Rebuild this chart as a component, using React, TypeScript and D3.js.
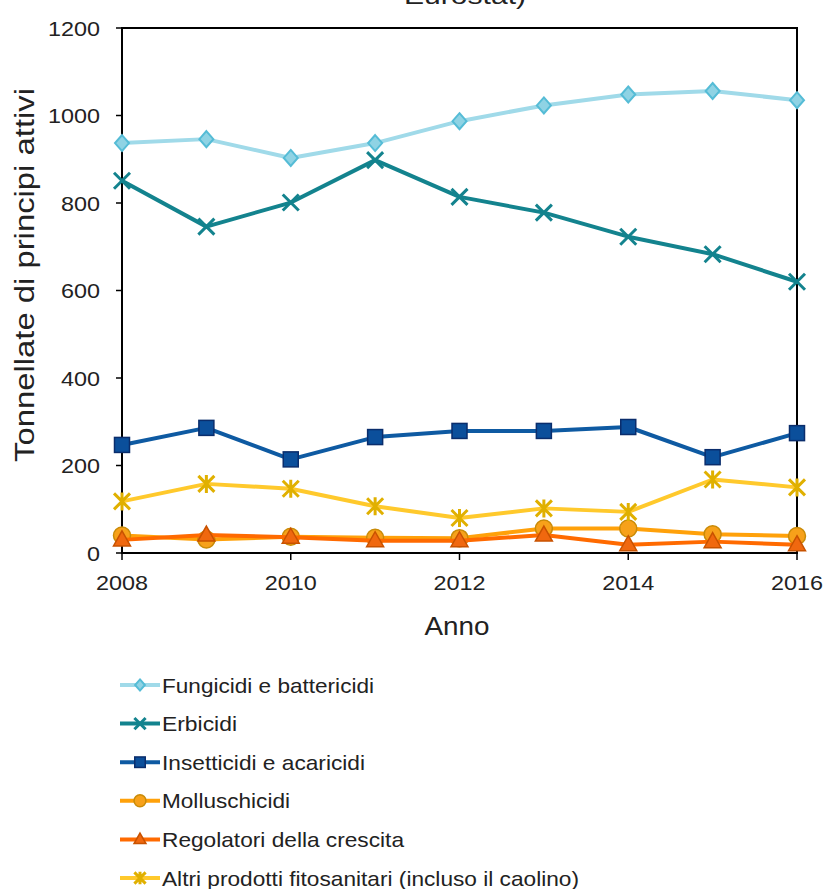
import React from "react";
import * as d3 from "d3";

const years = [2008, 2009, 2010, 2011, 2012, 2013, 2014, 2015, 2016];
const fungicidi = [937, 946, 903, 937, 987, 1023, 1048, 1056, 1035];
const erbicidi = [851, 746, 801, 898, 814, 778, 723, 683, 620];
const insetticidi = [247, 286, 214, 265, 279, 279, 288, 219, 274];
const molluschicidi = [40, 31, 37, 35, 34, 56, 56, 43, 39];
const regolatori = [30, 41, 36, 28, 28, 41, 19, 26, 19];
const altri = [118, 158, 147, 107, 80, 102, 94, 168, 150];
const yTicks = [0, 200, 400, 600, 800, 1000, 1200];
const xTicks = [2008, 2010, 2012, 2014, 2016];

type Marker = "diamond" | "x" | "square" | "circle" | "triangle" | "asterisk";
const series: { name: string; width: number; values: number[]; line: string; fill: string; stroke: string; marker: Marker }[] = [
  { name: "Fungicidi e battericidi", width: 212, values: fungicidi, line: "#a0dae9", fill: "#8fd3e4", stroke: "#55bcd6", marker: "diamond" },
  { name: "Erbicidi", width: 75, values: erbicidi, line: "#13838e", fill: "#13838e", stroke: "#13838e", marker: "x" },
  { name: "Insetticidi e acaricidi", width: 203, values: insetticidi, line: "#0e5aa2", fill: "#0b4f9b", stroke: "#0a2d6c", marker: "square" },
  { name: "Molluschicidi", width: 128, values: molluschicidi, line: "#ffa10a", fill: "#f7a11a", stroke: "#c98b08", marker: "circle" },
  { name: "Regolatori della crescita", width: 242, values: regolatori, line: "#ff6a00", fill: "#f0680f", stroke: "#c85200", marker: "triangle" },
  { name: "Altri prodotti fitosanitari (incluso il caolino)", width: 417, values: altri, line: "#ffc92c", fill: "#e4b200", stroke: "#e0b000", marker: "asterisk" },
];

const FONT = "Liberation Sans, Arial, sans-serif";

function MarkerShape({ type, x, y, fill, stroke, scale = 1 }: { type: Marker; x: number; y: number; fill: string; stroke: string; scale?: number }) {
  const s = scale;
  switch (type) {
    case "diamond":
      return <path d={`M${x},${y - 8 * s}L${x + 7 * s},${y}L${x},${y + 8 * s}L${x - 7 * s},${y}Z`} fill={fill} stroke={stroke} strokeWidth={2} />;
    case "x":
      return <path d={`M${x - 8 * s},${y - 8 * s}L${x + 8 * s},${y + 8 * s}M${x - 8 * s},${y + 8 * s}L${x + 8 * s},${y - 8 * s}`} stroke={stroke} strokeWidth={3} />;
    case "square":
      return <rect x={x - 7.5 * s} y={y - 7.5 * s} width={15 * s} height={15 * s} fill={fill} stroke={stroke} strokeWidth={1.5} />;
    case "circle":
      return <circle cx={x} cy={y} r={8.5 * s} fill={fill} stroke={stroke} strokeWidth={1.5} />;
    case "triangle":
      return <path d={`M${x},${y - 9 * s}L${x + 8.5 * s},${y + 6 * s}L${x - 8.5 * s},${y + 6 * s}Z`} fill={fill} stroke={stroke} strokeWidth={1.5} />;
    case "asterisk":
      return (
        <path
          d={`M${x - 8 * s},${y - 8 * s}L${x + 8 * s},${y + 8 * s}M${x - 8 * s},${y + 8 * s}L${x + 8 * s},${y - 8 * s}M${x},${y - 9 * s}L${x},${y + 9 * s}`}
          stroke={stroke}
          strokeWidth={3}
        />
      );
  }
}

export default function App() {
  const W = 828, H = 889;
  const x = d3.scaleLinear().domain([2008, 2016]).range([122, 797]);
  const y = d3.scaleLinear().domain([0, 1200]).range([553, 28]);
  const line = d3.line<number>().x((_, i) => x(years[i])).y((v) => y(v));

  return (
    <div style={{ position: "absolute", left: 0, top: 0 }}>
      <svg width={W} height={H} style={{ display: "block", fontFamily: FONT }}>
        <rect width={W} height={H} fill="#fff" />
        <text x={465} y={4} textAnchor="middle" fontSize={24} fill="#222" textLength={122} lengthAdjust="spacingAndGlyphs">Eurostat)</text>
        {/* frame */}
        <rect x={x(2008)} y={y(1200)} width={x(2016) - x(2008)} height={y(0) - y(1200)} fill="none" stroke="#000" strokeWidth={2} />
        {yTicks.map((t) => (
          <g key={t}>
            <line x1={116} x2={122} y1={y(t)} y2={y(t)} stroke="#000" strokeWidth={1.5} />
            <text x={100} y={y(t) + 7.5} textAnchor="end" fontSize={21} fill="#222" textLength={String(t).length * 13} lengthAdjust="spacingAndGlyphs">{t}</text>
          </g>
        ))}
        {xTicks.map((t) => (
          <g key={t}>
            <line x1={x(t)} x2={x(t)} y1={553} y2={560} stroke="#000" strokeWidth={1.5} />
            <text x={x(t)} y={590} textAnchor="middle" fontSize={21} fill="#222" textLength={52} lengthAdjust="spacingAndGlyphs">{t}</text>
          </g>
        ))}
        <text x={457} y={635} textAnchor="middle" fontSize={26} fill="#222" textLength={65} lengthAdjust="spacingAndGlyphs">Anno</text>
        <text transform="translate(34,275) rotate(-90)" textAnchor="middle" fontSize={27} fill="#222" textLength={374} lengthAdjust="spacingAndGlyphs">Tonnellate di principi attivi</text>
        {series.map((s) => (
          <g key={s.name}>
            <path d={line(s.values) || ""} fill="none" stroke={s.line} strokeWidth={4} strokeLinejoin="round" />
            {s.values.map((v, i) => (
              <MarkerShape key={i} type={s.marker} x={x(years[i])} y={y(v)} fill={s.fill} stroke={s.stroke} />
            ))}
          </g>
        ))}
        {/* legend */}
        {series.map((s, i) => {
          const ly = 685 + i * 38.6;
          return (
            <g key={s.name}>
              <line x1={120} x2={160} y1={ly} y2={ly} stroke={s.line} strokeWidth={4} />
              <MarkerShape type={s.marker} x={140} y={ly} fill={s.fill} stroke={s.stroke} scale={0.7} />
              <text x={162} y={ly + 7.5} fontSize={21} fill="#222" textLength={s.width} lengthAdjust="spacingAndGlyphs">{s.name}</text>
            </g>
          );
        })}
      </svg>
    </div>
  );
}
